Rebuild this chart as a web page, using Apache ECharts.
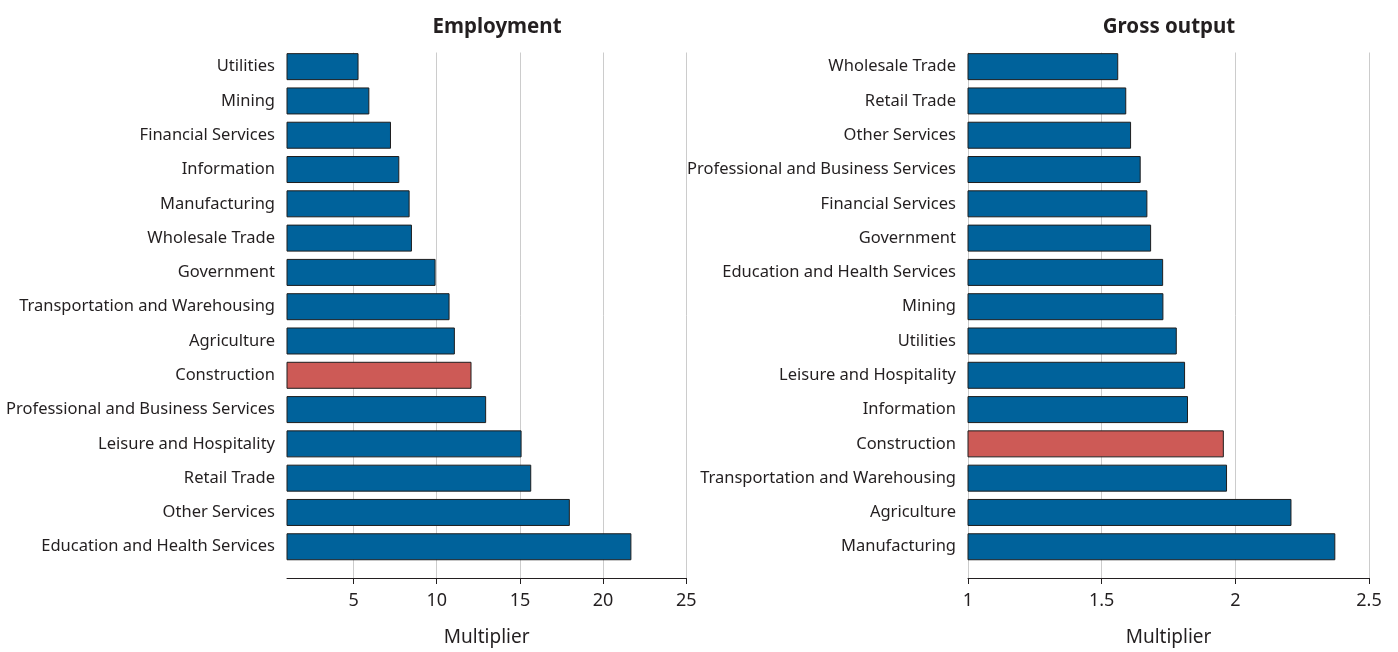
<!DOCTYPE html>
<html><head><meta charset="utf-8">
<script src="https://cdn.jsdelivr.net/npm/echarts@6/dist/echarts.min.js"></script>
<style>html,body{margin:0;padding:0;background:#fff}#c{width:1398px;height:652px}</style>
</head><body><div id="c"></div>
<script>
const empCategories = ["Utilities","Mining","Financial Services","Information","Manufacturing","Wholesale Trade","Government","Transportation and Warehousing","Agriculture","Construction","Professional and Business Services","Leisure and Hospitality","Retail Trade","Other Services","Education and Health Services"];
const empValues = [5.3,5.95,7.25,7.75,8.37,8.51,9.93,10.77,11.09,12.09,12.97,15.1,15.68,18.0,21.7];
const outCategories = ["Wholesale Trade","Retail Trade","Other Services","Professional and Business Services","Financial Services","Government","Education and Health Services","Mining","Utilities","Leisure and Hospitality","Information","Construction","Transportation and Warehousing","Agriculture","Manufacturing"];
const outValues = [1.562,1.592,1.610,1.646,1.671,1.685,1.730,1.731,1.781,1.812,1.823,1.957,1.969,2.21,2.374];
const empTicks = [5,10,15,20,25];
const outTicks = [1,1.5,2,2.5];
const highlight = "Construction";

const FONT = "Noto Sans";
const TXT = "#231f20";
const BLUE = "#00629b";
const RED = "#cd5a56";

function colored(cats, vals){
  return vals.map((v,i)=>({value:v, itemStyle:{color: cats[i]===highlight?RED:BLUE}}));
}

const chart = echarts.init(document.getElementById('c'), null, {renderer:'canvas'});
const barTop = 49.5, barH = 514.4;
const axisCommon = {
  nameLocation:'middle', nameGap:50,
  nameTextStyle:{fontFamily:FONT,fontSize:19,color:TXT},
  axisLine:{show:true,lineStyle:{color:TXT,width:1}},
  splitLine:{show:true,lineStyle:{color:'#cccccc',width:1}}
};
chart.setOption({
  animation:false,
  textStyle:{fontFamily:FONT},
  title:[
    {text:"Employment", left:492, top:12, textAlign:'center', textStyle:{fontFamily:FONT,fontSize:20.5,fontWeight:'bold',color:TXT}},
    {text:"Gross output", left:1164, top:12, textAlign:'center', textStyle:{fontFamily:FONT,fontSize:20.5,fontWeight:'bold',color:TXT}}
  ],
  grid:[
    {left:287, right:1398-686.3, top:52.5, bottom:71},
    {left:287, right:1398-686.3, top:barTop, height:barH},
    {left:968, right:29, top:52.5, bottom:71},
    {left:968, right:29, top:barTop, height:barH}
  ],
  xAxis:[
    Object.assign({gridIndex:0, type:'value', min:1, max:25, name:'Multiplier',
      axisTick:{show:true,length:6,lineStyle:{color:TXT},customValues:empTicks},
      axisLabel:{fontFamily:FONT,fontSize:18,color:TXT,margin:14,customValues:empTicks}}, axisCommon),
    {gridIndex:1, type:'value', min:1, max:25, show:false, splitLine:{show:false}},
    Object.assign({gridIndex:2, type:'value', min:1, max:2.5, interval:0.5, name:'Multiplier',
      axisTick:{show:true,length:6,lineStyle:{color:TXT},customValues:outTicks},
      axisLabel:{fontFamily:FONT,fontSize:18,color:TXT,margin:14,customValues:outTicks}}, axisCommon),
    {gridIndex:3, type:'value', min:1, max:2.5, show:false, splitLine:{show:false}}
  ],
  yAxis:[
    {gridIndex:0, type:'value', show:false, splitLine:{show:false}},
    {gridIndex:1, type:'category', data:empCategories, inverse:true,
      axisLine:{show:false}, axisTick:{show:false},
      axisLabel:{fontFamily:FONT,fontSize:16.5,color:TXT,margin:12,padding:[3,0,0,0]}},
    {gridIndex:2, type:'value', show:false, splitLine:{show:false}},
    {gridIndex:3, type:'category', data:outCategories, inverse:true,
      axisLine:{show:false}, axisTick:{show:false},
      axisLabel:{fontFamily:FONT,fontSize:16.5,color:TXT,margin:12,padding:[3,0,0,0]}}
  ],
  series:[
    {type:'bar', xAxisIndex:1, yAxisIndex:1, data:colored(empCategories, empValues), barWidth:27,
      itemStyle:{borderColor:'#1e1e1e',borderWidth:1}},
    {type:'bar', xAxisIndex:3, yAxisIndex:3, data:colored(outCategories, outValues), barWidth:27,
      itemStyle:{borderColor:'#1e1e1e',borderWidth:1}}
  ]
});
</script>
</body></html>
